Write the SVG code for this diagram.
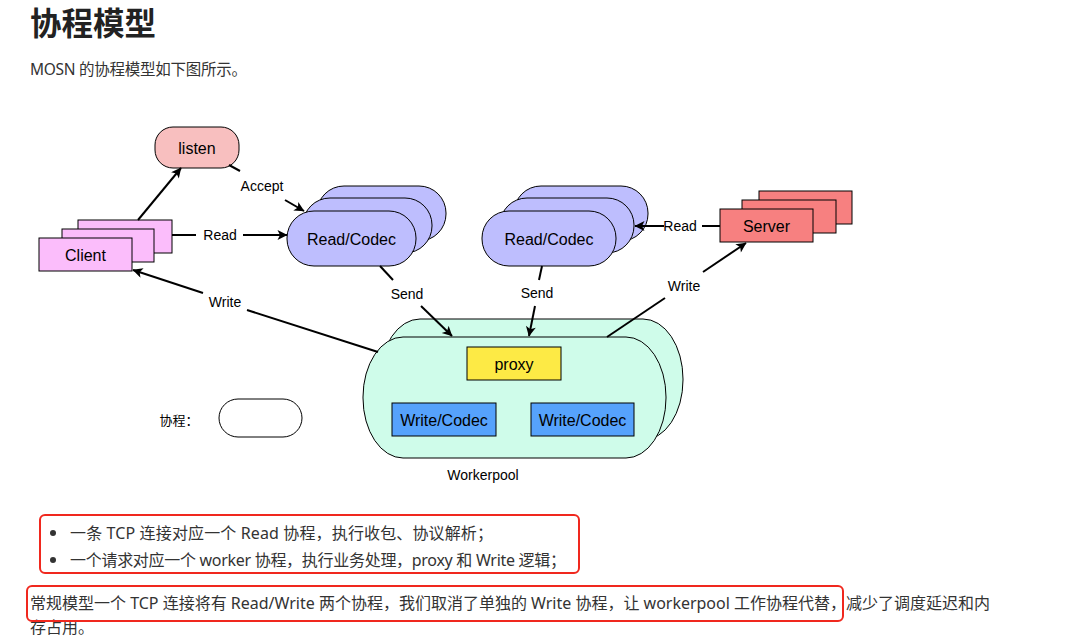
<svg xmlns="http://www.w3.org/2000/svg" width="1072" height="642" viewBox="0 0 1072 642">
<defs>
<marker id="arr" viewBox="0 0 10 10" refX="9.5" refY="5" markerWidth="12" markerHeight="10" markerUnits="userSpaceOnUse" orient="auto">
<path d="M0,0 L10,5 L0,10 L2.5,5 z" fill="#000"/>
</marker>
<style>
.n{stroke:#000;stroke-width:1}
.lbl{font-family:"Liberation Sans",Arial,sans-serif;font-size:16px;fill:#000;text-anchor:middle;dominant-baseline:central}
.el{font-family:"Liberation Sans",Arial,sans-serif;font-size:14px;fill:#000;text-anchor:middle;dominant-baseline:central}
.e{stroke:#000;stroke-width:2;fill:none}
.ea{stroke:#000;stroke-width:2;fill:none;marker-end:url(#arr)}
.body{font-family:"Noto Sans","Noto Sans CJK SC",sans-serif;font-size:16px;fill:#333}
.red{fill:none;stroke:#f0281e;stroke-width:2}
.client{fill:#fbbdfb}
.rc{fill:#bebefe}
.srv{fill:#f78080}
</style>
</defs>
<rect width="1072" height="642" fill="#fff"/>
<text x="30" y="35" font-family="Noto Sans CJK SC,sans-serif" font-size="31.5" font-weight="bold" fill="#222">协程模型</text>
<text x="30" y="75" class="body" style="font-size:15.5px" textLength="217">MOSN 的协程模型如下图所示。</text>

<g id="listen">
<rect x="155" y="127" width="84" height="41" rx="18" fill="#f8bfbf" class="n"/>
<text x="197" y="148" class="lbl">listen</text>
</g>
<g id="client">
<rect x="78" y="220" width="94" height="33" class="n client"/>
<rect x="62" y="229" width="92" height="33" class="n client"/>
<rect x="39" y="238" width="93" height="33" class="n client"/>
<text x="85.5" y="255" class="lbl">Client</text>
</g>
<g id="readcodec1">
<rect x="317" y="186" width="129" height="55" rx="27" class="n rc"/>
<rect x="303" y="198" width="129" height="55" rx="27" class="n rc"/>
<rect x="287" y="211" width="129" height="55" rx="27" class="n rc"/>
<text x="351.5" y="239" class="lbl">Read/Codec</text>
</g>
<g id="readcodec2">
<rect x="514" y="186" width="134" height="55" rx="27" class="n rc"/>
<rect x="500" y="198" width="134" height="55" rx="27" class="n rc"/>
<rect x="482" y="211" width="134" height="55" rx="27" class="n rc"/>
<text x="549" y="239" class="lbl">Read/Codec</text>
</g>
<g id="server">
<rect x="759" y="191" width="93" height="33" class="n srv"/>
<rect x="742" y="200" width="94" height="33" class="n srv"/>
<rect x="720" y="209" width="93" height="33" class="n srv"/>
<text x="766.5" y="226" class="lbl">Server</text>
</g>
<g id="workerpool">
<rect x="380" y="319" width="303" height="121" rx="40" ry="60" fill="#cffcea" class="n"/>
<rect x="363" y="337" width="303" height="121" rx="40" ry="60" fill="#cffcea" class="n"/>
<text x="483" y="475" class="el">Workerpool</text>
</g>
<g id="proxy">
<rect x="467" y="347" width="94" height="33" fill="#fdea45" class="n"/>
<text x="514" y="364" class="lbl">proxy</text>
</g>
<g id="writecodec1">
<rect x="392" y="403" width="104" height="33" fill="#56a2fc" class="n"/>
<text x="444" y="420" class="lbl">Write/Codec</text>
</g>
<g id="writecodec2">
<rect x="531" y="403" width="103" height="33" fill="#56a2fc" class="n"/>
<text x="582.5" y="420" class="lbl">Write/Codec</text>
</g>
<g id="legend">
<text x="179" y="419" class="el" style="font-family:'Noto Sans CJK SC',sans-serif;font-size:13px">协程：</text>
<rect x="219" y="399" width="83" height="38" rx="19" fill="#fff" class="n"/>
</g>

<g id="connectors">
<line x1="138" y1="220" x2="181" y2="168" class="ea"/>
<line x1="229" y1="165" x2="240" y2="171" class="e"/>
<text x="262" y="186" class="el">Accept</text>
<line x1="285" y1="200" x2="304" y2="211" class="ea"/>
<line x1="172" y1="235" x2="196" y2="235" class="e"/>
<text x="220" y="235" class="el">Read</text>
<line x1="243" y1="235" x2="287" y2="235" class="ea"/>
<line x1="720" y1="226" x2="702" y2="226" class="e"/>
<text x="680" y="226" class="el">Read</text>
<line x1="664" y1="226" x2="635" y2="226" class="ea"/>
<line x1="378" y1="352" x2="247" y2="310" class="e"/>
<text x="225" y="302" class="el">Write</text>
<line x1="203" y1="293" x2="133" y2="270" class="ea"/>
<line x1="380" y1="266" x2="393" y2="280" class="e"/>
<text x="407" y="294" class="el">Send</text>
<line x1="421" y1="306" x2="452" y2="336" class="ea"/>
<line x1="542" y1="266" x2="539" y2="280" class="e"/>
<text x="537" y="293" class="el">Send</text>
<line x1="535" y1="306" x2="529" y2="336" class="ea"/>
<line x1="607" y1="337" x2="665" y2="298" class="e"/>
<text x="684" y="286" class="el">Write</text>
<line x1="703" y1="272" x2="746" y2="243" class="ea"/>
</g>

<g id="notes">
<rect x="40" y="515" width="539" height="58" rx="5" class="red"/>
<circle cx="53" cy="533" r="3" fill="#333"/>
<circle cx="53" cy="560" r="3" fill="#333"/>
<text x="70" y="539" class="body" textLength="423">一条 TCP 连接对应一个 Read 协程，执行收包、协议解析；</text>
<text x="70" y="566" class="body" textLength="496">一个请求对应一个 worker 协程，执行业务处理，proxy 和 Write 逻辑；</text>
<text x="30" y="609" class="body" textLength="960">常规模型一个 TCP 连接将有 Read/Write 两个协程，我们取消了单独的 Write 协程，让 workerpool 工作协程代替，减少了调度延迟和内</text>
<text x="30" y="633" class="body">存占用。</text>
<rect x="27" y="586" width="816" height="35" rx="5" class="red"/>
</g>
</svg>
